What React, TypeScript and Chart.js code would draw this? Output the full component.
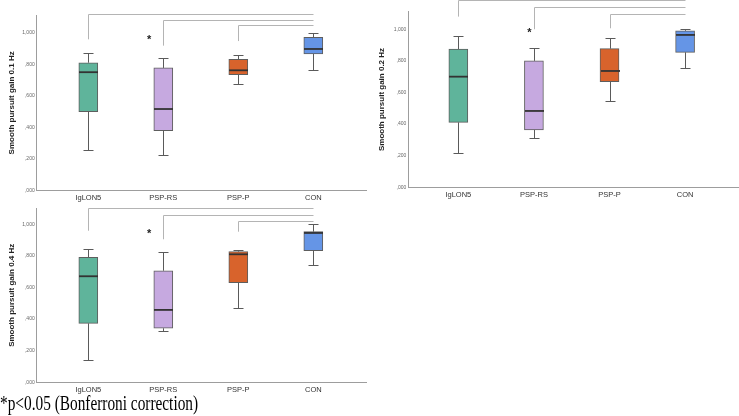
import React, { useEffect, useRef } from "react";
import { Chart, registerables } from "chart.js";

Chart.register(...registerables);

// ---------- data ----------
const categories = ["IgLON5", "PSP-RS", "PSP-P", "CON"];
const yTickValues = [0, 0.2, 0.4, 0.6, 0.8, 1.0];
const yTickLabels = [",000", ",200", ",400", ",600", ",800", "1,000"];
const comparisons = [[0, 3], [1, 3], [2, 3]];

// 0.1 Hz
const min01 = [0.258, 0.224, 0.673, 0.762];
const q1_01 = [0.5, 0.38, 0.734, 0.865];
const med01 = [0.75, 0.517, 0.762, 0.897];
const q3_01 = [0.81, 0.777, 0.832, 0.971];
const max01 = [0.87, 0.838, 0.857, 1.0];

// 0.2 Hz
const min02 = [0.215, 0.314, 0.548, 0.753];
const q1_02 = [0.411, 0.363, 0.668, 0.854];
const med02 = [0.7, 0.483, 0.736, 0.964];
const q3_02 = [0.875, 0.8, 0.877, 0.99];
const max02 = [0.96, 0.884, 0.947, 1.0];

// 0.4 Hz
const min04 = [0.141, 0.327, 0.472, 0.742];
const q1_04 = [0.373, 0.342, 0.63, 0.833];
const med04 = [0.671, 0.458, 0.81, 0.945];
const q3_04 = [0.791, 0.706, 0.827, 0.953];
const max04 = [0.842, 0.827, 0.837, 1.0];

const footnote = "*p<0.05 (Bonferroni correction)";

// ---------- styles / layout ----------
const BOX_COLORS = ["#5fb49b", "#c6a9e0", "#d8632c", "#6595e6"];
const BOX_BORDER = "#5e5e5e";
const WHISKER = "#5a5a5a";
const MEDIAN = "#333333";
const BRACKET = "#b4b4b4";
const AXIS = "#9d9d9d";
const SANS = "'Liberation Sans', Arial, sans-serif";
const BOX_W = 19;
const CAP_W = 10;

type Panel = {
  title: string;
  min: number[];
  q1: number[];
  med: number[];
  q3: number[];
  max: number[];
  box: { left: number; top: number; width: number; height: number };
  area: { left: number; top: number; right: number; bottom: number };
  xMin: number;
  xMax: number;
  yMax: number;
  levels: number[];
  drops: number[];
  star: { x: number; y: number };
};

const panels: Panel[] = [
  {
    title: "Smooth pursuit gain 0.1 Hz",
    min: min01, q1: q1_01, med: med01, q3: q3_01, max: max01,
    box: { left: 0, top: 0, width: 370, height: 210 },
    area: { left: 36.7, top: 15, right: 366.7, bottom: 190.7 },
    xMin: 0.312, xMax: 4.712, yMax: 1.112,
    levels: [1.116, 1.08, 1.047],
    drops: [0.958, 0.918, 0.947],
    star: { x: 1.81, y: 0.975 },
  },
  {
    title: "Smooth pursuit gain 0.2 Hz",
    min: min02, q1: q1_02, med: med02, q3: q3_02, max: max02,
    box: { left: 370, top: 0, width: 369, height: 210 },
    area: { left: 38.3, top: 11.7, right: 368, bottom: 187.3 },
    xMin: 0.338, xMax: 4.7, yMax: 1.111,
    levels: [1.182, 1.139, 1.095],
    drops: [1.08, 1.0, 1.006],
    star: { x: 1.94, y: 0.996 },
  },
  {
    title: "Smooth pursuit gain 0.4 Hz",
    min: min04, q1: q1_04, med: med04, q3: q3_04, max: max04,
    box: { left: 0, top: 200, width: 370, height: 216 },
    area: { left: 36.7, top: 8.3, right: 366.7, bottom: 182.3 },
    xMin: 0.312, xMax: 4.712, yMax: 1.101,
    levels: [1.101, 1.059, 1.023],
    drops: [0.959, 0.905, 0.953],
    star: { x: 1.81, y: 0.958 },
  },
];

function makeChart(canvas: HTMLCanvasElement, p: Panel) {
  const extras = {
    id: "boxExtras",
    afterDatasetsDraw(chart: any) {
      const xs = chart.scales.x;
      const ys = chart.scales.y;
      const ctx = chart.ctx as CanvasRenderingContext2D;
      ctx.save();
      const al = (v: number) => Math.round(v) + 0.5;
      categories.forEach((_, i) => {
        const cx = al(xs.getPixelForValue(i + 1));
        const pMax = al(ys.getPixelForValue(p.max[i]));
        const pQ3 = ys.getPixelForValue(p.q3[i]);
        const pQ1 = ys.getPixelForValue(p.q1[i]);
        const pMin = al(ys.getPixelForValue(p.min[i]));
        const pMed = ys.getPixelForValue(p.med[i]);
        ctx.strokeStyle = WHISKER;
        ctx.lineWidth = 1;
        ctx.beginPath();
        ctx.moveTo(cx, pMax);
        ctx.lineTo(cx, pQ3);
        ctx.moveTo(cx, pQ1);
        ctx.lineTo(cx, pMin);
        ctx.moveTo(cx - CAP_W / 2, pMax);
        ctx.lineTo(cx + CAP_W / 2, pMax);
        ctx.moveTo(cx - CAP_W / 2, pMin);
        ctx.lineTo(cx + CAP_W / 2, pMin);
        ctx.stroke();
        ctx.strokeStyle = MEDIAN;
        ctx.lineWidth = 1.8;
        ctx.beginPath();
        ctx.moveTo(cx - BOX_W / 2, pMed);
        ctx.lineTo(cx + BOX_W / 2, pMed);
        ctx.stroke();
      });
      // significance brackets
      ctx.strokeStyle = BRACKET;
      ctx.lineWidth = 1;
      comparisons.forEach(([a, b], k) => {
        const xa = al(xs.getPixelForValue(a + 1));
        const xb = al(xs.getPixelForValue(b + 1));
        const yl = al(ys.getPixelForValue(p.levels[k]));
        const yd = ys.getPixelForValue(p.drops[k]);
        ctx.beginPath();
        ctx.moveTo(xa, yd);
        ctx.lineTo(xa, yl);
        ctx.lineTo(xb, yl);
        ctx.stroke();
      });
      // star
      ctx.fillStyle = "#222";
      ctx.font = `bold 11px ${SANS}`;
      ctx.textAlign = "center";
      ctx.textBaseline = "alphabetic";
      const sx = xs.getPixelForValue(p.star.x);
      const sy = ys.getPixelForValue(p.star.y);
      ctx.fillText("*", sx, sy + 6.3);
      ctx.restore();
    },
  };

  const W = p.box.width;
  const H = p.box.height;

  return new Chart(canvas, {
    type: "bar",
    data: {
      datasets: [
        {
          data: categories.map((_, i) => ({ x: i + 1, y: [p.q1[i], p.q3[i]] })) as any,
          backgroundColor: BOX_COLORS,
          borderColor: BOX_BORDER,
          borderWidth: 1,
          borderSkipped: false,
          barThickness: BOX_W,
        },
      ],
    },
    options: {
      animation: false,
      responsive: false,
      maintainAspectRatio: false,
      devicePixelRatio: 1,
      events: [],
      layout: {
        padding: { left: 0, top: p.area.top, right: W - p.area.right, bottom: 0 },
      },
      plugins: {
        legend: { display: false },
        tooltip: { enabled: false },
        title: { display: false },
      },
      scales: {
        x: {
          type: "linear",
          min: p.xMin,
          max: p.xMax,
          offset: false,
          grid: { display: false, drawTicks: false, offset: false },
          border: { display: true, color: AXIS, width: 1 },
          afterBuildTicks: (s: any) => {
            s.ticks = categories.map((_, i) => ({ value: i + 1 }));
          },
          afterFit: (s: any) => {
            s.height = H - p.area.bottom;
          },
          ticks: {
            autoSkip: false,
            maxRotation: 0,
            padding: 3,
            color: "#333",
            font: { family: SANS, size: 7.5 },
            callback: (v: any) => categories[Math.round(Number(v)) - 1] ?? "",
          },
        } as any,
        y: {
          type: "linear",
          min: 0,
          max: p.yMax,
          grid: { display: false, drawTicks: false },
          border: { display: true, color: AXIS, width: 1 },
          afterBuildTicks: (s: any) => {
            s.ticks = yTickValues.map((v) => ({ value: v }));
          },
          afterFit: (s: any) => {
            s.width = p.area.left;
          },
          ticks: {
            autoSkip: false,
            padding: 2,
            color: "#666",
            font: { family: SANS, size: 5 },
            callback: (_v: any, i: number) => yTickLabels[i],
          },
          title: {
            display: true,
            text: p.title,
            color: "#222",
            font: { family: SANS, size: 8, weight: "bold" },
            padding: { top: 7.2, bottom: 0 },
          },
        } as any,
      },
    },
    plugins: [extras],
  });
}

export default function App() {
  const r0 = useRef<HTMLCanvasElement>(null);
  const r1 = useRef<HTMLCanvasElement>(null);
  const r2 = useRef<HTMLCanvasElement>(null);
  const refs = [r0, r1, r2];

  useEffect(() => {
    const charts = panels.map((p, i) => makeChart(refs[i].current as HTMLCanvasElement, p));
    return () => charts.forEach((c) => c.destroy());
  }, []);

  return (
    <div
      style={{
        position: "fixed",
        left: 0,
        top: 0,
        width: 739,
        height: 416,
        background: "#fff",
        overflow: "hidden",
      }}
    >
      {panels.map((p, i) => (
        <canvas
          key={i}
          ref={refs[i]}
          width={p.box.width}
          height={p.box.height}
          style={{
            position: "absolute",
            left: p.box.left,
            top: p.box.top,
            width: p.box.width,
            height: p.box.height,
          }}
        />
      ))}
      <div
        style={{
          position: "absolute",
          left: 0,
          top: 393,
          fontFamily: "'Liberation Serif', 'Times New Roman', serif",
          fontSize: 21,
          lineHeight: "21px",
          whiteSpace: "nowrap",
          transform: "scaleX(0.73)",
          transformOrigin: "0 0",
          color: "#000",
        }}
      >
        {footnote}
      </div>
    </div>
  );
}
